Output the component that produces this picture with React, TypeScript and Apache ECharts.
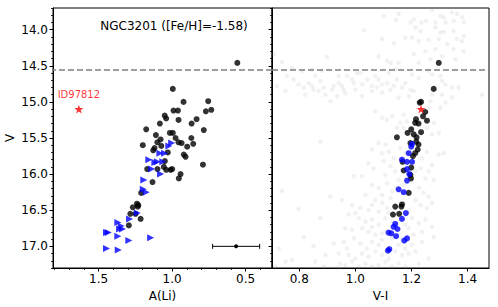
import React, { useEffect, useRef } from "react";
import * as echarts from "echarts";

// ---- Data ----
const leftBlack: number[][] = [
  [0.556, 14.46], [0.995, 14.82], [0.922, 15.0], [0.754, 14.99], [0.99, 15.12], [0.96, 15.12],
  [0.77, 15.13], [0.733, 15.11], [1.05, 15.19], [1.04, 15.23], [0.956, 15.25], [0.833, 15.24],
  [0.867, 15.3], [1.083, 15.3], [1.176, 15.38], [0.784, 15.39], [1.015, 15.43], [0.995, 15.43],
  [1.11, 15.46], [0.976, 15.5], [1.078, 15.52], [0.869, 15.5], [1.1, 15.56], [0.956, 15.56],
  [0.935, 15.57], [1.199, 15.6], [0.856, 15.58], [1.073, 15.61], [0.897, 15.62], [1.119, 15.64],
  [1.128, 15.67], [0.92, 15.73], [0.908, 15.76], [1.029, 15.7], [1.049, 15.82], [0.79, 15.87],
  [1.169, 15.93], [1.099, 15.93], [1.056, 15.9], [1.04, 15.94], [1.01, 15.94], [0.999, 15.93],
  [0.942, 16.0], [0.954, 16.06], [1.133, 16.11], [1.21, 16.26], [1.239, 16.41], [1.23, 16.43],
  [1.267, 16.46], [1.233, 16.45], [1.284, 16.55], [1.248, 16.55], [1.214, 16.62], [1.294, 16.71],
];
const leftBlue: number[][] = [
  [1.003, 15.57], [1.022, 15.61], [1.083, 15.71], [1.051, 15.71], [1.158, 15.8], [1.117, 15.84],
  [1.1, 15.83], [1.063, 15.83], [1.139, 15.93], [1.078, 16.0], [1.192, 16.08], [1.196, 16.21],
  [1.176, 16.25], [1.237, 16.54], [1.289, 16.62], [1.369, 16.67], [1.346, 16.72], [1.357, 16.76],
  [1.337, 16.76], [1.446, 16.81], [1.434, 16.81], [1.369, 16.86], [1.294, 16.92], [1.146, 16.88],
  [1.446, 17.03], [1.366, 17.05],
];
const leftStar: number[][] = [[1.634, 15.1]];
const starName = "ID97812";
const errorBar: number[][] = [[0.564, 17.0, 0.16]];

const rightBlack: number[][] = [
  [1.297, 14.46], [1.279, 14.82], [1.234, 15.0], [1.229, 15.01], [1.249, 15.14], [1.241, 15.2],
  [1.255, 15.26], [1.216, 15.24], [1.213, 15.29], [1.225, 15.3], [1.199, 15.38], [1.186, 15.43],
  [1.208, 15.45], [1.234, 15.42], [1.148, 15.49], [1.218, 15.49], [1.196, 15.57], [1.217, 15.55],
  [1.225, 15.59], [1.222, 15.66], [1.213, 15.71], [1.205, 15.75], [1.168, 15.83], [1.199, 15.91],
  [1.172, 15.95], [1.196, 16.01], [1.198, 16.06], [1.19, 16.26], [1.166, 16.42], [1.164, 16.45],
  [1.142, 16.45], [1.134, 16.56], [1.156, 16.55],
];
const rightBlue: number[][] = [
  [1.202, 15.58], [1.199, 15.62], [1.19, 15.71], [1.166, 15.8], [1.184, 15.83], [1.202, 15.83],
  [1.184, 15.93], [1.192, 16.0], [1.184, 16.09], [1.154, 16.21], [1.172, 16.25], [1.18, 16.54],
  [1.166, 16.62], [1.142, 16.69], [1.136, 16.73], [1.15, 16.76], [1.118, 16.81], [1.128, 16.82],
  [1.145, 16.86], [1.184, 16.89], [1.174, 16.92], [1.121, 17.04], [1.116, 17.06],
];
const rightStar: number[][] = [[1.234, 15.1]];
const rightGray: number[][] = [
  [1.154, 13.78], [1.101, 13.81], [1.145, 13.87], [1.196, 13.9], [1.208, 13.86], [1.235, 13.9],
  [1.252, 13.88], [1.273, 13.73], [1.303, 13.81], [1.315, 13.83], [1.344, 13.76], [1.362, 13.78],
  [1.38, 13.83], [1.386, 13.9], [1.35, 13.88], [1.321, 13.9], [1.285, 13.9], [1.214, 13.97],
  [1.232, 14.02], [1.285, 13.97], [1.303, 14.04], [1.315, 14.03], [1.35, 14.02], [1.386, 14.09],
  [1.38, 14.16], [1.362, 14.13], [1.202, 14.11], [1.178, 14.11], [1.03, 14.01], [1.095, 14.13],
  [1.137, 14.19], [1.226, 14.16], [1.261, 14.14], [1.297, 14.13], [1.327, 14.2], [1.285, 14.27],
  [1.249, 14.3], [1.208, 14.34], [1.35, 14.27], [1.386, 14.3], [1.309, 14.37], [1.083, 14.37],
  [1.113, 14.43], [1.125, 14.46], [1.154, 14.46], [0.899, 14.38], [0.739, 14.45], [0.709, 14.34],
  [1.226, 14.46], [1.267, 14.41], [1.356, 14.41], [1.202, 14.62], [1.226, 14.67], [1.261, 14.57],
  [1.273, 14.62], [1.303, 14.64], [1.309, 14.71], [1.321, 14.76], [1.344, 14.8], [1.368, 14.8],
  [1.451, 14.9], [0.756, 14.64], [0.78, 14.69], [0.798, 14.76], [0.816, 14.8], [0.834, 14.74],
  [0.846, 14.78], [0.857, 14.64], [0.851, 14.83], [0.869, 14.85], [0.887, 14.8], [0.893, 14.9],
  [0.917, 14.83], [0.923, 14.78], [0.941, 14.74], [0.958, 14.83], [0.988, 14.69], [0.994, 14.74],
  [1.024, 14.76], [1.041, 14.69], [1.059, 14.78], [1.077, 14.8], [1.095, 14.76], [1.113, 14.74],
  [1.137, 14.78], [1.148, 14.69], [1.166, 14.8], [1.178, 14.74], [1.196, 14.83], [0.721, 14.78],
  [0.751, 14.85], [0.822, 14.9], [0.911, 14.99], [0.935, 14.92], [0.964, 14.88], [1.0, 14.83],
  [1.024, 14.92], [1.059, 14.85], [1.095, 14.87], [1.125, 14.83], [1.154, 14.94], [1.19, 14.92],
  [1.208, 14.85], [1.273, 14.9], [1.309, 14.9], [1.344, 14.94], [1.321, 15.01], [1.303, 15.08],
  [1.267, 14.99], [1.261, 15.08], [1.095, 15.22], [1.113, 15.25], [1.131, 15.2], [1.172, 15.18],
  [1.16, 15.29], [1.184, 15.27], [1.172, 15.36], [1.148, 15.36], [1.255, 15.36], [1.279, 15.29],
  [1.273, 15.45], [1.297, 15.43], [1.071, 15.13], [0.97, 14.64], [0.941, 14.64], [0.952, 14.78],
  [0.81, 14.57], [0.774, 14.53], [0.846, 14.55], [0.881, 14.57], [0.875, 14.71], [1.006, 14.6],
  [1.018, 14.6], [1.071, 14.64], [1.083, 14.69], [1.119, 14.6], [1.142, 14.55],
  [0.875, 15.55], [1.083, 15.57], [1.107, 15.59], [1.059, 15.66], [1.095, 15.71], [1.119, 15.69],
  [1.255, 15.69], [1.297, 15.73], [1.315, 15.71], [1.047, 15.85], [1.065, 15.92], [1.101, 15.82],
  [1.125, 15.89], [1.142, 15.96], [1.107, 16.01], [1.273, 15.87], [1.261, 15.96], [1.249, 16.06],
  [1.279, 16.08], [0.994, 16.03], [1.024, 16.03], [0.739, 16.23], [0.952, 16.36], [0.911, 16.31],
  [1.059, 16.15], [1.083, 16.19], [1.113, 16.13], [1.131, 16.24], [1.226, 16.19], [1.243, 16.26],
  [1.261, 16.31], [1.036, 16.29], [1.071, 16.36], [1.095, 16.4], [1.125, 16.33], [1.214, 16.36],
  [1.232, 16.43], [1.255, 16.47], [1.273, 16.4], [0.988, 16.43], [1.018, 16.47], [1.047, 16.5],
  [1.083, 16.52], [1.113, 16.47], [0.798, 16.48], [0.875, 16.61], [1.012, 16.61], [1.036, 16.66],
  [1.059, 16.63], [1.083, 16.7], [1.107, 16.61], [1.202, 16.61], [1.226, 16.68], [1.249, 16.63],
  [1.273, 16.73], [0.964, 16.75], [0.988, 16.77], [1.024, 16.75], [1.047, 16.8], [1.071, 16.84],
  [1.095, 16.82], [1.19, 16.75], [1.208, 16.84], [1.237, 16.8], [1.279, 16.87], [0.816, 16.87],
  [0.727, 17.03], [0.851, 17.0], [0.923, 16.96], [0.958, 16.94], [0.97, 17.03], [0.994, 16.89],
  [1.018, 16.96], [1.041, 17.03], [1.059, 16.94], [1.083, 16.98], [1.095, 16.91], [1.154, 16.98],
  [1.202, 16.98], [1.237, 16.94], [0.893, 17.12], [0.941, 17.1], [0.976, 17.12], [1.0, 17.17],
  [1.024, 17.1], [1.047, 17.14], [1.071, 17.07], [1.095, 17.12], [1.142, 17.07], [1.166, 17.12],
  [1.19, 17.1], [1.214, 17.07], [0.774, 17.19], [0.857, 17.21], [0.946, 17.24], [0.964, 17.26],
  [0.988, 17.21], [1.012, 17.28], [1.036, 17.24], [1.059, 17.28], [1.083, 17.26], [1.107, 17.21],
  [1.131, 17.28], [1.154, 17.24], [1.178, 17.28], [1.226, 17.24], [1.261, 17.17], [0.715, 17.28],
  [0.751, 17.21], [0.887, 17.28], [0.935, 17.3], [1.119, 17.17], [1.131, 16.89], [1.166, 16.89],
  [1.119, 17.03], [1.178, 17.03], [1.154, 16.84], [1.059, 16.73], [1.131, 16.66], [1.178, 16.7],
  [1.154, 16.56], [1.119, 16.54], [1.172, 16.4], [1.19, 16.5], [1.148, 16.19], [1.172, 16.15],
  [1.202, 16.1], [1.214, 15.96], [1.178, 15.71], [1.16, 15.64], [1.237, 15.78], [1.232, 15.92],
  [1.137, 15.78], [1.154, 16.08], [1.095, 16.29], [1.059, 16.43], [0.976, 16.56], [1.0, 16.54],
];

const cutV = 14.55;
const yMajor = [14.0, 14.5, 15.0, 15.5, 16.0, 16.5, 17.0];
const yMinor = [13.7, 13.8, 13.9, 14.1, 14.2, 14.3, 14.4, 14.6, 14.7, 14.8, 14.9, 15.1, 15.2, 15.3, 15.4, 15.6, 15.7, 15.8, 15.9, 16.1, 16.2, 16.3, 16.4, 16.6, 16.7, 16.8, 16.9, 17.1, 17.2, 17.3];
const liMajor = [0.5, 1.0, 1.5];
const liMinor = [0.4, 0.6, 0.7, 0.8, 0.9, 1.1, 1.2, 1.3, 1.4, 1.6, 1.7, 1.8];
const viMajor = [0.8, 1.0, 1.2, 1.4];

const Y_MIN = 13.7, Y_MAX = 17.3;
const LI_MIN = 0.32, LI_MAX = 1.81;
const VI_MIN = 0.703, VI_MAX = 1.476;

const STAR = "path://M0,-10L2.35,-3.24L9.51,-3.09L3.8,1.24L5.88,8.09L0,4L-5.88,8.09L-3.8,1.24L-9.51,-3.09L-2.35,-3.24Z";
const FONT = "DejaVu Sans";

export default function App() {
  const ref = useRef<HTMLDivElement>(null);
  useEffect(() => {
    if (!ref.current) return;
    const chart = echarts.init(ref.current, undefined, { renderer: "svg" });
    const lbl = { color: "#000", fontSize: 12, fontFamily: FONT, formatter: (v: number) => v.toFixed(1) };
    const mainAxisBase = (min: number, max: number, inverse: boolean, gridIndex: number) => ({
      type: "value", gridIndex, min, max, inverse,
      axisLine: { show: true, lineStyle: { color: "#000", width: 1 } },
      splitLine: { show: false },
    });
    const minorAxis = (min: number, max: number, inverse: boolean, gridIndex: number, vals: number[], pos: string) => ({
      type: "value", gridIndex, min, max, inverse, position: pos,
      axisLine: { show: false },
      axisLabel: { show: false },
      splitLine: { show: false },
      axisTick: { show: true, length: 2, customValues: vals, lineStyle: { color: "#000", width: 0.8 } },
    });
    const dash = {
      silent: true, symbol: "none",
      label: { show: false },
      lineStyle: { color: "#808080", type: [6, 3], width: 1.5 },
      data: [{ yAxis: cutV }],
    };
    chart.setOption({
      animation: false,
      backgroundColor: "#fff",
      textStyle: { fontFamily: FONT },
      grid: [
        { left: 53, top: 8, width: 219, height: 260, show: true, borderColor: "#000", borderWidth: 1, backgroundColor: "transparent" },
        { left: 272, top: 8, width: 217, height: 260, show: true, borderColor: "#000", borderWidth: 1, backgroundColor: "transparent" },
      ],
      xAxis: [
        {
          ...mainAxisBase(LI_MIN, LI_MAX, true, 0), position: "bottom",
          name: "A(Li)", nameLocation: "middle", nameGap: 22,
          nameTextStyle: { color: "#000", fontSize: 12, fontFamily: FONT },
          axisTick: { show: true, length: 3.5, customValues: liMajor, lineStyle: { color: "#000" } },
          axisLabel: { ...lbl, margin: 5, customValues: liMajor },
        },
        minorAxis(LI_MIN, LI_MAX, true, 0, liMinor, "bottom"),
        {
          ...mainAxisBase(VI_MIN, VI_MAX, false, 1), position: "bottom",
          name: "V-I", nameLocation: "middle", nameGap: 22,
          nameTextStyle: { color: "#000", fontSize: 12, fontFamily: FONT },
          axisTick: { show: true, length: 3.5, customValues: viMajor, lineStyle: { color: "#000" } },
          axisLabel: { ...lbl, margin: 5, customValues: viMajor },
        },
      ],
      yAxis: [
        {
          ...mainAxisBase(Y_MIN, Y_MAX, true, 0), position: "left",
          name: "V", nameLocation: "middle", nameGap: 37, nameRotate: 90,
          nameTextStyle: { color: "#000", fontSize: 12, fontFamily: FONT },
          axisTick: { show: true, length: 3.5, customValues: yMajor, lineStyle: { color: "#000" } },
          axisLabel: { ...lbl, margin: 5, customValues: yMajor },
        },
        minorAxis(Y_MIN, Y_MAX, true, 0, yMinor, "left"),
        {
          ...mainAxisBase(Y_MIN, Y_MAX, true, 1), position: "left",
          axisTick: { show: true, length: 3.5, customValues: yMajor, lineStyle: { color: "#000" } },
          axisLabel: { show: false },
        },
        minorAxis(Y_MIN, Y_MAX, true, 1, yMinor, "left"),
      ],
      graphic: [
        {
          type: "text", x: 174, y: 26, z: 100,
          style: { text: "NGC3201 ([Fe/H]=-1.58)", fill: "#000", fontSize: 12, fontFamily: FONT, textAlign: "center", textVerticalAlign: "middle" },
        },
      ],
      series: [
        {
          type: "scatter", xAxisIndex: 0, yAxisIndex: 0, data: leftBlack,
          symbol: "circle", symbolSize: 6, itemStyle: { color: "#000" },
          markLine: dash,
        },
        {
          type: "scatter", xAxisIndex: 0, yAxisIndex: 0, data: leftBlue,
          symbol: "triangle", symbolSize: 7, symbolRotate: -90, itemStyle: { color: "#0000ff" },
        },
        {
          type: "scatter", xAxisIndex: 0, yAxisIndex: 0, data: leftStar,
          symbol: STAR, symbolSize: 9, symbolKeepAspect: true, itemStyle: { color: "#ff0000" },
          label: { show: true, position: "top", distance: 5, formatter: starName, color: "#ff0000", fontSize: 10, fontFamily: FONT },
        },
        {
          type: "custom", xAxisIndex: 0, yAxisIndex: 0, data: errorBar,
          renderItem: (_p: any, api: any) => {
            const x = api.value(0), y = api.value(1), e = api.value(2);
            const c = api.coord([x, y]);
            const l = api.coord([x - e, y]);
            const r = api.coord([x + e, y]);
            const st = { stroke: "#000", lineWidth: 1 };
            return {
              type: "group",
              children: [
                { type: "line", shape: { x1: l[0], y1: l[1], x2: r[0], y2: r[1] }, style: st },
                { type: "line", shape: { x1: l[0], y1: l[1] - 2.5, x2: l[0], y2: l[1] + 2.5 }, style: st },
                { type: "line", shape: { x1: r[0], y1: r[1] - 2.5, x2: r[0], y2: r[1] + 2.5 }, style: st },
                { type: "circle", shape: { cx: c[0], cy: c[1], r: 2 }, style: { fill: "#000" } },
              ],
            };
          },
        },
        {
          type: "scatter", xAxisIndex: 2, yAxisIndex: 2, data: rightGray,
          symbol: "circle", symbolSize: 4.5, itemStyle: { color: "rgba(150,150,150,0.16)" },
          markLine: dash,
        },
        {
          type: "scatter", xAxisIndex: 2, yAxisIndex: 2, data: rightBlack,
          symbol: "circle", symbolSize: 6, itemStyle: { color: "#000" },
        },
        {
          type: "scatter", xAxisIndex: 2, yAxisIndex: 2, data: rightBlue,
          symbol: "circle", symbolSize: 6, itemStyle: { color: "#0000ff" },
        },
        {
          type: "scatter", xAxisIndex: 2, yAxisIndex: 2, data: rightStar,
          symbol: STAR, symbolSize: 9, symbolKeepAspect: true, itemStyle: { color: "#ff0000" },
        },
      ],
    });
    return () => chart.dispose();
  }, []);
  return (
    <div
      ref={ref}
      style={{ position: "absolute", left: 0, top: 0, width: 498, height: 307, background: "#fff" }}
    />
  );
}
